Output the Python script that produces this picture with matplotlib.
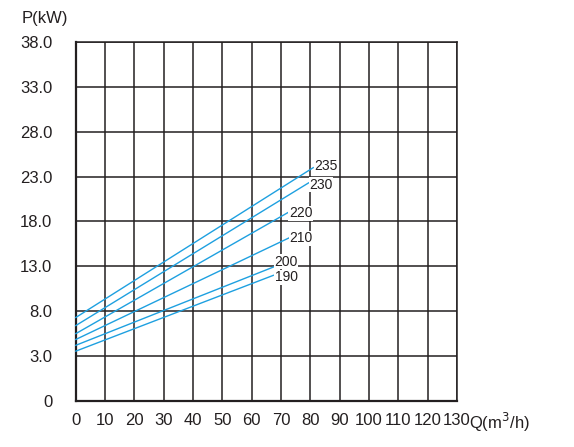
import matplotlib
matplotlib.use("Agg")
import matplotlib.pyplot as plt

plt.rcParams['font.family'] = ['Liberation Sans', 'DejaVu Sans']

# Data
curve_labels = ["235", "230", "220", "210", "200", "190"]
q_start = [0, 0, 0, 0, 0, 0]
p_start = [7.3, 6.4, 5.5, 4.85, 4.2, 3.55]
q_end = [81.0, 79.4, 72.4, 72.6, 68.0, 67.4]
p_end = [24.0, 22.3, 19.0, 16.15, 13.0, 12.0]
label_q = [81.3, 79.7, 72.7, 72.9, 67.8, 67.8]
label_p = [24.2, 22.1, 18.9, 16.15, 13.5, 11.8]

x_ticks = list(range(0, 131, 10))
y_tick_pos = [-2, 3, 8, 13, 18, 23, 28, 33, 38]
y_tick_labels = ["0", "3.0", "8.0", "13.0", "18.0", "23.0", "28.0", "33.0", "38.0"]

fig = plt.figure(figsize=(5.74, 4.47), dpi=100)
ax = fig.add_axes([0.132, 0.103, 0.664, 0.803])

line_color = "#1ea0e0"
grid_color = "#231f20"

for qs, ps, qe, pe, lq, lp, lab in zip(q_start, p_start, q_end, p_end, label_q, label_p, curve_labels):
    ax.plot([qs, qe], [ps, pe], color=line_color, lw=1.0, zorder=3, clip_on=False)
    ax.text(lq, lp, lab, fontsize=10, color="#231f20", ha="left", va="center", zorder=4,
            bbox=dict(facecolor="white", edgecolor="none", pad=0.3))

ax.set_xlim(0, 130)
ax.set_ylim(-2, 38)
ax.set_xticks(x_ticks)
ax.set_xticklabels([str(v) for v in x_ticks], fontsize=12, color="#231f20")
ax.set_yticks(y_tick_pos)
ax.set_yticklabels(y_tick_labels, fontsize=12, color="#231f20")
ax.tick_params(axis='both', length=0)
ax.tick_params(axis='x', pad=9)
ax.tick_params(axis='y', pad=17)
ax.grid(True, color=grid_color, lw=1.1, zorder=1)
ax.set_axisbelow(True)
for side, sp in ax.spines.items():
    sp.set_color(grid_color)
    sp.set_linewidth(1.1)
ax.spines['left'].set_linewidth(1.6)
ax.spines['bottom'].set_linewidth(1.6)

fig.text(22 / 574, 1 - 18.5 / 447, "P(kW)", fontsize=12, ha="left", va="center", color="#231f20")
fig.text(469 / 574, 1 - 422 / 447, "Q(m$^3$/h)", fontsize=12, ha="left", va="center", color="#231f20")

fig.savefig("out.png", dpi=100)
